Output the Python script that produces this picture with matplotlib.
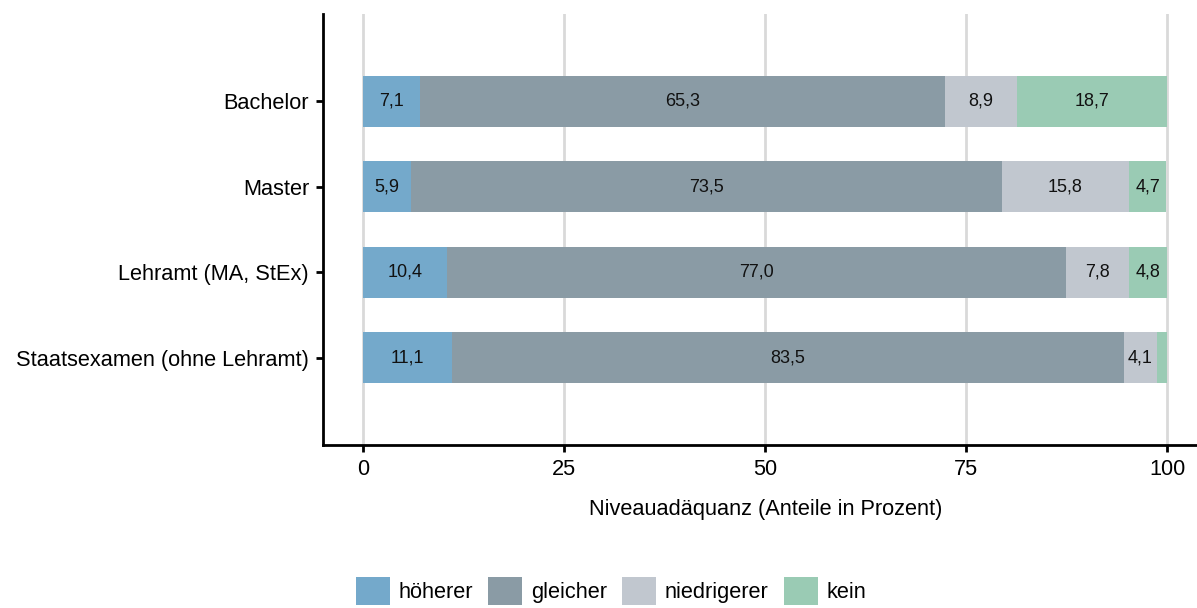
import matplotlib
matplotlib.use("Agg")
import matplotlib.pyplot as plt
from matplotlib.patches import Patch

categories = ["Bachelor", "Master", "Lehramt (MA, StEx)", "Staatsexamen (ohne Lehramt)"]
series = ["höherer", "gleicher", "niedrigerer", "kein"]
hoeherer = [7.1, 5.9, 10.4, 11.1]
gleicher = [65.3, 73.5, 77.0, 83.5]
niedrigerer = [8.9, 15.8, 7.8, 4.1]
kein = [18.7, 4.7, 4.8, 1.3]
values = [hoeherer, gleicher, niedrigerer, kein]
colors = ["#74A9CB", "#8A9BA5", "#C1C7CF", "#9ACBB4"]
xticks = [0, 25, 50, 75, 100]

plt.rcParams['font.family'] = ['Liberation Sans', 'DejaVu Sans']
FS = 15.7

fig = plt.figure(figsize=(11.97, 6.08), dpi=100)
ax = fig.add_axes([323/1197, 163/608, 884.4/1197, 431/608])

n = len(categories)
ypos = [n - i for i in range(n)]
left = [0.0] * n
for vals, col in zip(values, colors):
    ax.barh(ypos, vals, left=left, height=0.6, color=col, zorder=2)
    for y, l, v in zip(ypos, left, vals):
        if v >= 3:
            ax.text(l + v / 2, y, f"{v:.1f}".replace(".", ","), ha="center", va="center",
                    fontsize=13, color="#111111", zorder=3)
    left = [a + b for a, b in zip(left, vals)]

ax.set_xlim(-5, 105)
ax.set_ylim(-0.02, 5.02)
ax.set_yticks(ypos)
ax.set_yticklabels(categories, fontsize=FS)
ax.set_xticks(xticks)
ax.set_xticklabels([str(t) for t in xticks], fontsize=FS)
ax.set_xlabel("Niveauadäquanz (Anteile in Prozent)", fontsize=FS, labelpad=14)
for t in xticks:
    ax.axvline(t, color="#D9D9D9", lw=2, zorder=1)
ax.spines['top'].set_visible(False)
ax.spines['right'].set_visible(False)
ax.spines['left'].set_linewidth(2)
ax.spines['bottom'].set_linewidth(2)
ax.tick_params(axis='both', length=5, width=2, color="black", pad=5)

handles = [Patch(facecolor=c, edgecolor='none', label=s) for s, c in zip(series, colors)]
fig.legend(handles=handles, loc="center", bbox_to_anchor=(611/1197, 1 - 591/608), ncol=4,
           frameon=False, fontsize=FS, handlelength=1.56, handleheight=1.56,
           handletextpad=0.4, columnspacing=0.7, borderaxespad=0, borderpad=0)

fig.savefig("out.png", dpi=100)
